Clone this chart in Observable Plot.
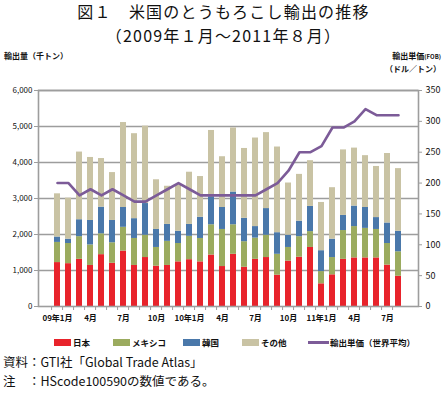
<!DOCTYPE html>
<html><head><meta charset="utf-8">
<script src="https://cdn.jsdelivr.net/npm/d3@7"></script>
<script src="https://cdn.jsdelivr.net/npm/@observablehq/plot@0.6"></script>
<style>
body{margin:0;background:#fff;font-family:"Noto Sans CJK JP","Noto Sans",sans-serif;}
#wrap{position:relative;width:447px;height:396px;overflow:hidden;background:#fff;}
#chart{position:absolute;left:0;top:0;}
.t{position:absolute;white-space:nowrap;color:#111;line-height:1;}
.title{left:0;width:447px;text-align:center;font-size:16px;letter-spacing:1.2px;line-height:23.5px;white-space:normal;}
.ax{font-size:8px;font-weight:bold;}
.lg{font-size:8.5px;font-weight:bold;}
.sw{position:absolute;height:7px;width:17px;}
.note{font-size:12.5px;left:3px;}
</style></head>
<body>
<div id="wrap">
<div id="chart"></div>
<div class="t title" style="top:0px;">図１　米国のとうもろこし輸出の推移<br>（2009年１月～2011年８月）</div>
<div class="t ax" style="left:4px;top:52px;">輸出量（千トン）</div>
<div class="t ax" style="right:6px;top:52px;">輸出単価<span style="font-size:6px">(FOB)</span></div>
<div class="t ax" style="right:6px;top:65px;">（ドル／トン）</div>
<div id="legend"></div>
<div class="t note" style="top:356px;">資料：GTI社「Global Trade Atlas」</div>
<div class="t note" style="top:375px;">注　：HScode100590の数値である。</div>
</div>
<script>
const months = ["2009-01","2009-02","2009-03","2009-04","2009-05","2009-06","2009-07","2009-08","2009-09","2009-10","2009-11","2009-12",
"2010-01","2010-02","2010-03","2010-04","2010-05","2010-06","2010-07","2010-08","2010-09","2010-10","2010-11","2010-12",
"2011-01","2011-02","2011-03","2011-04","2011-05","2011-06","2011-07","2011-08"];
const tickLabels = ["09年1月","","","4月","","","7月","","","10月","","",
"10年1月","","","4月","","","7月","","","10月","","",
"11年1月","","","4月","","","7月",""];
const japan  = [1220,1190,1310,1140,1440,1200,1540,1140,1360,1120,1140,1240,1300,1240,1430,1110,1450,1090,1310,1360,870,1260,1370,1640,630,880,1310,1350,1350,1350,1150,840];
const mexico = [560,560,630,570,580,570,660,750,620,520,670,510,650,650,840,1030,820,710,590,620,580,380,570,440,340,480,800,870,820,790,600,680];
const korea  = [150,120,470,680,740,620,550,550,880,500,470,340,330,590,780,610,910,650,320,740,600,340,430,700,580,510,420,570,580,330,570,570];
const others = [1200,1140,1880,1750,1350,1330,2360,2360,2150,1380,1060,1290,1450,1130,1840,1410,1780,1940,2460,2110,2380,1450,1300,1270,1340,1430,1820,1610,1440,1420,1930,1740];
const price  = [200,200,180,190,180,190,180,170,170,180,190,200,190,180,180,180,180,180,180,190,200,220,250,250,260,290,290,300,320,310,310,310];

const seriesNames = ["日本","メキシコ","韓国","その他"];
const seriesColors = ["#e8232b","#9bab5f","#4a78aa","#c9c3a4"];
const lineName = "輸出単価（世界平均）";
const lineColor = "#7c5b98";
const leftTicks = [0,1000,2000,3000,4000,5000,6000];
const rightTicks = [0,50,100,150,200,250,300,350];
const leftMax = 6000, rightMax = 350;

const seriesValues = [japan, mexico, korea, others];
const long = [];
months.forEach((m,i)=>seriesNames.forEach((s,k)=>long.push({month:m, series:s, value:seriesValues[k][i]})));
const lineData = months.map((m,i)=>({month:m, price:price[i]}));
const labelOf = new Map(months.map((m,i)=>[m,tickLabels[i]]));
const conv = v => v*leftMax/rightMax;

const grid = "#9d9d9d";
const step = (447-38-29)/months.length;
const chart = Plot.plot({
  width:447, height:396,
  marginTop:90, marginBottom:90, marginLeft:38, marginRight:29,
  style:{fontFamily:'"Noto Sans CJK JP","Noto Sans",sans-serif', background:"transparent", color:"#111"},
  x:{domain:months, paddingInner:0.45, paddingOuter:0.225, axis:null, label:null},
  y:{domain:[0,leftMax], axis:null, label:null},
  color:{domain:seriesNames, range:seriesColors},
  marks:[
    Plot.gridY({ticks:leftTicks.slice(1), stroke:grid, strokeOpacity:1, strokeWidth:1.6}),
    Plot.barY(long, {x:"month", y:"value", fill:"series", order:seriesNames}),
    Plot.frame({stroke:grid, strokeWidth:1.6}),
    Plot.line(lineData, {x:"month", y:d=>conv(d.price), stroke:lineColor, strokeWidth:2.6}),
    Plot.axisY({ticks:leftTicks, tickFormat:d3.format(","), tickSize:4, tickPadding:2, fontSize:8, stroke:grid, label:null}),
    Plot.axisY({anchor:"right", ticks:rightTicks.map(conv), tickFormat:v=>String(Math.round(v*rightMax/leftMax)), tickSize:3, tickPadding:4, fontSize:9, stroke:grid, label:null}),
    Plot.axisX({ticks:months, tickSize:4, tickFormat:()=>"", dx:-step/2, stroke:grid, label:null}),
    Plot.axisX({ticks:months.filter((m,i)=>tickLabels[i]!==""), tickSize:0, tickPadding:9, tickFormat:d=>labelOf.get(d), fontSize:8, fontWeight:"bold", label:null})
  ]
});
document.getElementById("chart").appendChild(chart);

// legend
const lg = document.getElementById("legend");
const swX = [54,113,183,242];
seriesNames.forEach((s,k)=>{
  const sw = document.createElement("div");
  sw.className="sw"; sw.style.left=swX[k]+"px"; sw.style.top="339px"; sw.style.background=seriesColors[k];
  lg.appendChild(sw);
  const t = document.createElement("div");
  t.className="t lg"; t.style.left=(swX[k]+19)+"px"; t.style.top="338px"; t.textContent=s;
  lg.appendChild(t);
});
const ln = document.createElement("div");
ln.className="sw"; ln.style.left="308px"; ln.style.top="341px"; ln.style.height="3px"; ln.style.width="21px"; ln.style.background=lineColor;
lg.appendChild(ln);
const lt = document.createElement("div");
lt.className="t lg"; lt.style.left="330px"; lt.style.top="338px"; lt.textContent=lineName;
lg.appendChild(lt);
</script>
</body></html>
